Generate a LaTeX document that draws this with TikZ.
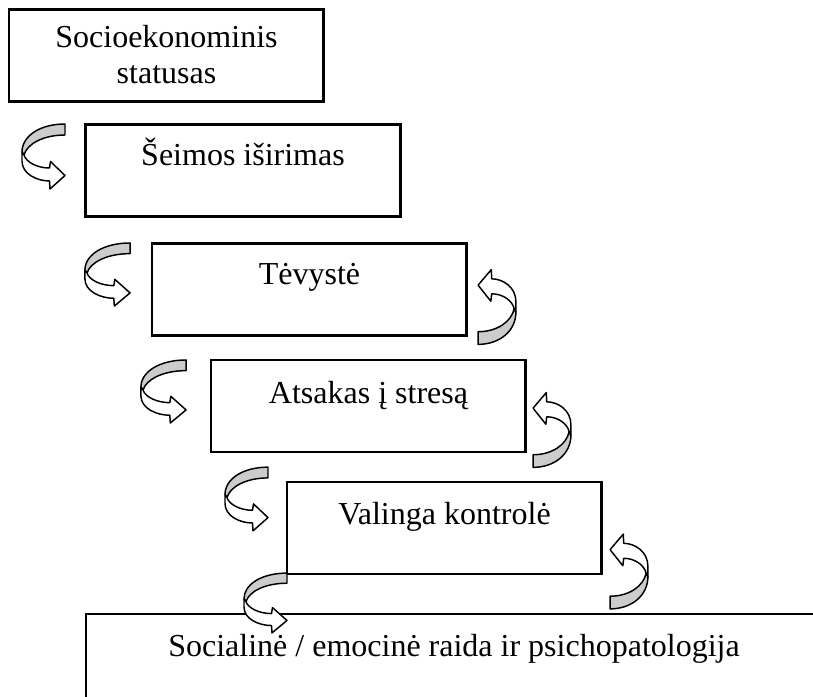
\documentclass[tikz,border=0pt]{standalone}
\usepackage{fontspec}
\setmainfont{Liberation Serif}
\usetikzlibrary{positioning}
\definecolor{RibbonGray}{RGB}{204,204,204}

\tikzset{
  box/.style={draw, line width=1pt, minimum width=118pt, minimum height=34.5pt, inner sep=0pt},
  lbl/.style={font=\fontsize{12}{13.5}\selectfont, align=center, inner sep=0pt, anchor=base},
  curlline/.style={line width=0.55pt, line join=round},
  % ribbon arrow, drawn round its own centre
  curl/.pic={
    \filldraw[curlline, fill=RibbonGray] (21.5,-32.5) .. controls (-3.5,-32.5) and (-21.5,-20.5) .. (-21.5,-4.5)
      -- (-19.5,-1.5) .. controls (-16.5,-12.5) and (-0.5,-21.5) .. (21.5,-21.5) -- cycle;
    \filldraw[curlline, fill=white] (-21.5,-4.5) -- (-21.5,4.5) .. controls (-21.5,17.5) and (-6.5,24.5) .. (6,24.5)
      -- (6.5,32.5) -- (21.5,19) -- (7,5) -- (6,11.5) .. controls (-6.5,11.5) and (-17.5,5.5) .. (-19.5,-1.5) -- cycle;
  }
}

\begin{document}
\begin{tikzpicture}[x=0.375pt, y=-0.375pt]
    \useasboundingbox (0,0) rectangle (813,697);
    \clip (0,0) rectangle (813,697);

    % Boxes
    \node[box] (socio) at (166.5,55.5) {};
    \node[box] (seima) at (243,170.5) {};
    \node[box] (tevyste) at (309.5,289.5) {};
    \node[box] (atsakas) at (368.5,406) {};
    \node[box] (kontrole) at (444.5,528) {};
    \node[box, minimum width=276pt, minimum height=50pt] (raida) at (454,680.5) {};

    % Texts (base is the last line)
    \node[lbl] (socioT) at ([yshift=-28.1pt]socio.north) {Socioekonominis\\statusas};
    \node[lbl] (seimaT) at ([yshift=-16pt]seima.north) {Šeimos iširimas};
    \node[lbl] (tevysteT) at ([yshift=-16pt]tevyste.north) {Tėvystė};
    \node[lbl] (atsakasT) at ([yshift=-16.8pt]atsakas.north) {Atsakas į stresą};
    \node[lbl] (kontroleT) at ([yshift=-16.3pt]kontrole.north) {Valinga kontrolė};
    \node[lbl] (raidaT) at ([yshift=-16.6pt]raida.north) {Socialinė / emocinė raida ir psichopatologija};

    % Left curls
    \foreach \x/\y/\sx/\sy in {43.5/156.5/1/1, 107.5/274.5/1.05/0.97, 163.5/391.5/1.05/0.97,
                               246.5/499/1/0.98, 265.5/603/1/0.92}
      \pic[xscale=\sx, yscale=\sy] at (\x,\y) {curl};

    % Right curls
    \foreach \x/\y in {497/307, 552/430, 629/571.5}
      \pic[rotate=180, xscale=0.88, yscale=1.15] at (\x,\y) {curl};
\end{tikzpicture}
\end{document}
